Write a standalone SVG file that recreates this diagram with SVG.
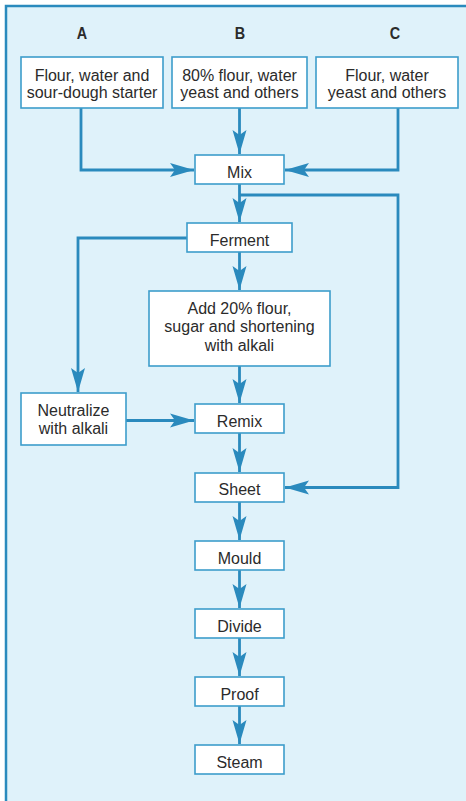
<svg xmlns="http://www.w3.org/2000/svg" width="466" height="801" viewBox="0 0 466 801">
<defs>
<style>
.box{fill:#ffffff;stroke:#3d9dcb;stroke-width:1.6}
.t{font-family:"Liberation Sans",Arial,sans-serif;font-size:16px;fill:#2b2b2b;text-anchor:middle}
.h{font-family:"Liberation Sans",Arial,sans-serif;font-size:16px;font-weight:bold;fill:#2b2b2b;text-anchor:middle}
.c{fill:none;stroke:#2a8abd;stroke-width:2.8;stroke-linejoin:miter}
</style>
<marker id="ah" markerUnits="userSpaceOnUse" viewBox="-25 -8 26 16" refX="0" refY="0" markerWidth="26" markerHeight="16" orient="auto">
<path d="M0,0 L-24,-7 L-19,0 L-24,7 Z" fill="#2a8abd"/>
</marker>
</defs>
<rect x="0" y="0" width="466" height="801" fill="#ffffff"/>
<rect x="6" y="6" width="460" height="795" fill="#dff2fa"/>
<path d="M6,801 V6 H466" fill="none" stroke="#2a8abd" stroke-width="2.5"/>
<g id="labels">
<text class="h" transform="translate(82,0) scale(0.9,1)" x="0" y="39">A</text>
<text class="h" transform="translate(240,0) scale(0.9,1)" x="0" y="39">B</text>
<text class="h" transform="translate(395,0) scale(0.9,1)" x="0" y="39">C</text>
</g>
<g id="connectors">
<path class="c" d="M81,108 V170 H194" marker-end="url(#ah)"/>
<path class="c" d="M239.5,108 V154" marker-end="url(#ah)"/>
<path class="c" d="M398,108 V170 H285" marker-end="url(#ah)"/>
<path class="c" d="M239.5,184 V222" marker-end="url(#ah)"/>
<path class="c" d="M239.5,195 H398 V487.5 H285" marker-end="url(#ah)"/>
<path class="c" d="M187,238 H78 V392" marker-end="url(#ah)"/>
<path class="c" d="M239.5,252 V290" marker-end="url(#ah)"/>
<path class="c" d="M239.5,366 V403" marker-end="url(#ah)"/>
<path class="c" d="M126,420.5 H194" marker-end="url(#ah)"/>
<path class="c" d="M239.5,433 V472" marker-end="url(#ah)"/>
<path class="c" d="M239.5,502 V540" marker-end="url(#ah)"/>
<path class="c" d="M239.5,570 V608" marker-end="url(#ah)"/>
<path class="c" d="M239.5,638 V676" marker-end="url(#ah)"/>
<path class="c" d="M239.5,706 V744" marker-end="url(#ah)"/>
</g>
<g id="nodeA">
<rect class="box" x="21" y="57" width="142" height="51"/>
<text class="t" x="92" y="80.5">Flour, water and</text>
<text class="t" x="92" y="97.5">sour-dough starter</text>
</g>
<g id="nodeB">
<rect class="box" x="172" y="57" width="135" height="51"/>
<text class="t" x="239.5" y="80.5">80% flour, water</text>
<text class="t" x="239.5" y="97.5">yeast and others</text>
</g>
<g id="nodeC">
<rect class="box" x="316" y="57" width="142" height="51"/>
<text class="t" x="387" y="80.5">Flour, water</text>
<text class="t" x="387" y="97.5">yeast and others</text>
</g>
<g id="mix">
<rect class="box" x="195" y="155" width="89" height="29"/>
<text class="t" x="239.5" y="178">Mix</text>
</g>
<g id="ferment">
<rect class="box" x="187" y="223" width="105" height="29"/>
<text class="t" x="239.5" y="246">Ferment</text>
</g>
<g id="add">
<rect class="box" x="149" y="291" width="181" height="75"/>
<text class="t" x="239.5" y="313.5">Add 20% flour,</text>
<text class="t" x="239.5" y="332">sugar and shortening</text>
<text class="t" x="239.5" y="350.5">with alkali</text>
</g>
<g id="neutralize">
<rect class="box" x="21" y="393" width="105" height="52"/>
<text class="t" x="73.5" y="416">Neutralize</text>
<text class="t" x="73.5" y="434">with alkali</text>
</g>
<g id="remix">
<rect class="box" x="195" y="404" width="89" height="29"/>
<text class="t" x="239.5" y="426.5">Remix</text>
</g>
<g id="sheet">
<rect class="box" x="195" y="473" width="89" height="29"/>
<text class="t" x="239.5" y="495">Sheet</text>
</g>
<g id="mould">
<rect class="box" x="195" y="541" width="89" height="29"/>
<text class="t" x="239.5" y="563.5">Mould</text>
</g>
<g id="divide">
<rect class="box" x="195" y="609" width="89" height="29"/>
<text class="t" x="239.5" y="631.5">Divide</text>
</g>
<g id="proof">
<rect class="box" x="195" y="677" width="89" height="29"/>
<text class="t" x="239.5" y="699.5">Proof</text>
</g>
<g id="steam">
<rect class="box" x="195" y="745" width="89" height="29"/>
<text class="t" x="239.5" y="767.5">Steam</text>
</g>
</svg>
